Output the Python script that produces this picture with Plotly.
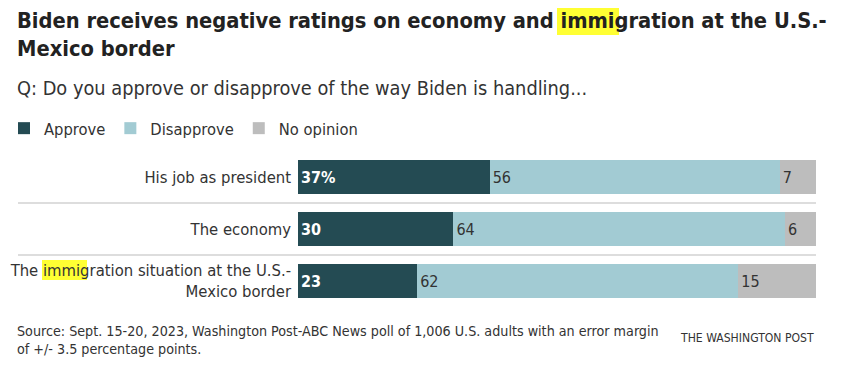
import plotly.graph_objects as go

categories = [
    "His job as president",
    "The economy",
    "The immigration situation at the U.S.-<br>Mexico border",
]
approve = [37, 30, 23]
disapprove = [56, 64, 62]
no_opinion = [7, 6, 15]
series_names = ["Approve", "Disapprove", "No opinion"]

FONT = "DejaVu Sans Condensed, Liberation Sans Narrow, Roboto, sans-serif"
colors = ["#244b53", "#a2cbd3", "#bdbdbd"]
text_colors = ["#ffffff", "#333333", "#333333"]

fig = go.Figure()
for si, (name, vals) in enumerate(zip(series_names, [approve, disapprove, no_opinion])):
    texts = [f"{v}%" if (si == 0 and i == 0) else str(v) for i, v in enumerate(vals)]
    fig.add_trace(go.Bar(
        name=name, y=categories, x=vals, orientation="h",
        marker=dict(color=colors[si], line=dict(width=0)),
        text=texts, textposition="inside", insidetextanchor="start",
        textangle=0,
        textfont=dict(color=text_colors[si], size=16, family=FONT,
                      weight=("bold" if si == 0 else "normal")),
        hoverinfo="skip",
    ))

H = 370
L, R, T, B = 298, 32, 151, 63
W = 848 - L - R
PH = H - T - B

def px_x(px):
    return (px - L) / W

def px_y(py):
    return 1 - (py - T) / PH

shapes = []
for yy in [0.5, 1.5]:
    shapes.append(dict(type="line", xref="paper", yref="y",
                       x0=px_x(18), x1=1, y0=yy, y1=yy,
                       line=dict(color="#dddddd", width=2), layer="below"))
# yellow highlights behind "immig"
shapes.append(dict(type="rect", xref="paper", yref="paper",
                   x0=px_x(557), x1=px_x(619), y0=px_y(35), y1=px_y(8),
                   fillcolor="#ffff33", line=dict(width=0), layer="below"))
shapes.append(dict(type="rect", xref="paper", yref="paper",
                   x0=px_x(42), x1=px_x(87), y0=px_y(280), y1=px_y(260),
                   fillcolor="#ffff33", line=dict(width=0), layer="below"))

fig.update_layout(
    width=848, height=H,
    margin=dict(l=L, r=R, t=T, b=B, autoexpand=False),
    paper_bgcolor="white", plot_bgcolor="white",
    barmode="stack", bargap=0.365,
    font=dict(family=FONT, color="#333333", size=16),
    xaxis=dict(range=[0, 100], visible=False, fixedrange=True),
    yaxis=dict(autorange="reversed", showgrid=False, showline=False,
               ticks="", tickfont=dict(size=16.5, color="#333333", family=FONT),
               ticklabelstandoff=6, fixedrange=True, automargin=False),
    legend=dict(orientation="h", x=px_x(4), xanchor="left",
                y=px_y(111), yanchor="top",
                font=dict(size=16.4, color="#333333", family=FONT),
                traceorder="normal", itemclick=False, itemdoubleclick=False),
    shapes=shapes,
    showlegend=True,
    annotations=[
        dict(text="<b>Biden receives negative ratings on economy and immigration at the U.S.-<br>Mexico border</b>",
             xref="paper", yref="paper", x=px_x(15), xanchor="left", align="left",
             y=px_y(6), yanchor="top", showarrow=False,
             font=dict(size=21.7, color="#222222", family=FONT)),
        dict(text="Q: Do you approve or disapprove of the way Biden is handling...",
             xref="paper", yref="paper", x=px_x(15), xanchor="left",
             y=px_y(88), yanchor="middle", showarrow=False,
             font=dict(size=19.8, color="#333333", family=FONT)),
        dict(text="Source: Sept. 15-20, 2023, Washington Post-ABC News poll of 1,006 U.S. adults with an error margin<br>of +/- 3.5 percentage points.",
             xref="paper", yref="paper", x=px_x(15), xanchor="left", align="left",
             y=px_y(340), yanchor="middle", showarrow=False,
             font=dict(size=14.2, color="#333333", family=FONT)),
        dict(text="THE WASHINGTON POST",
             xref="paper", yref="paper", x=1, xanchor="right",
             y=px_y(338), yanchor="middle", showarrow=False,
             font=dict(size=12.1, color="#333333", family=FONT)),
    ],
)

fig.write_html("out.html", config={"displayModeBar": False, "staticPlot": True},
               post_script="document.body.style.margin='0';document.body.style.overflow='hidden';")
